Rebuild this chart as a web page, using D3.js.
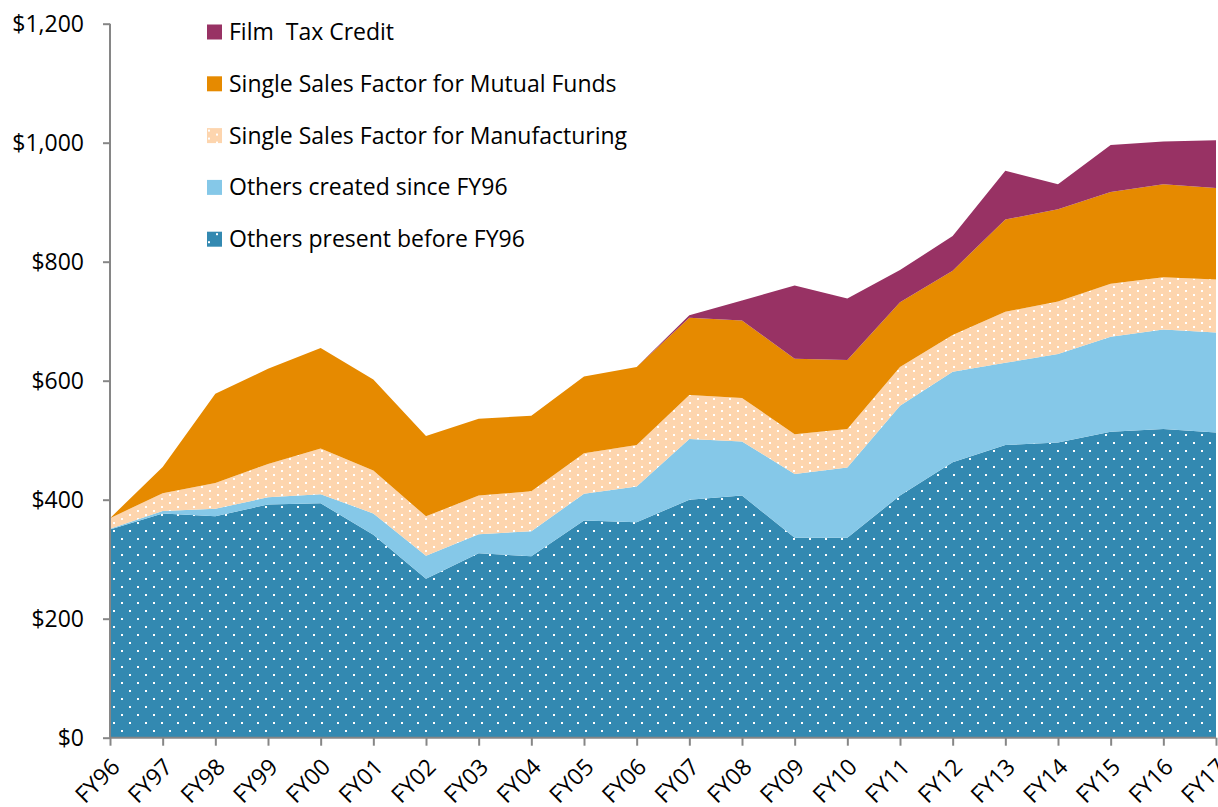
<!DOCTYPE html>
<html>
<head>
<meta charset="utf-8">
<script src="https://cdn.jsdelivr.net/npm/d3@7"></script>
<style>
  body { margin: 0; background: #fff; }
  svg text { font-family: "Open Sans", Lato, sans-serif; fill: #000; }
</style>
</head>
<body>
<div id="svg-area"></div>
<script>
var svgWidth = 1218;
var svgHeight = 807;

// fiscal years along the x axis
var years = ["FY96", "FY97", "FY98", "FY99", "FY00", "FY01", "FY02", "FY03", "FY04", "FY05", "FY06",
  "FY07", "FY08", "FY09", "FY10", "FY11", "FY12", "FY13", "FY14", "FY15", "FY16", "FY17"];

// series values ($ millions), bottom of the stack first
var othersBefore = [350, 377, 372, 392, 394, 341, 267, 310, 305, 365, 362, 400, 407, 336, 336, 407, 463, 492, 496, 514, 519, 513];
var othersSince = [1, 4, 13, 12, 15, 36, 39, 32, 42, 45, 60, 102, 91, 107, 118, 151, 152, 138, 149, 160, 167, 168];
var ssfManufacturing = [18, 30, 43, 56, 77, 72, 66, 65, 67, 68, 70, 74, 73, 67, 65, 65, 62, 86, 88, 89, 88, 89];
var ssfMutualFunds = [0, 44, 150, 160, 169, 153, 135, 129, 127, 129, 131, 130, 130, 127, 116, 109, 108, 155, 155, 154, 156, 154];
var filmCredit = [0, 0, 0, 0, 0, 0, 0, 0, 0, 0, 0, 4, 34, 123, 103, 54, 58, 82, 42, 79, 72, 80];

var yTicks = [0, 200, 400, 600, 800, 1000, 1200];

var seriesKeys = ["before", "since", "manu", "mutual", "film"];
var seriesNames = {
  before: "Others present before FY96",
  since: "Others created since FY96",
  manu: "Single Sales Factor for Manufacturing",
  mutual: "Single Sales Factor for Mutual Funds",
  film: "Film  Tax Credit"
};

var rows = years.map(function(y, i) {
  return {
    year: y,
    before: othersBefore[i],
    since: othersSince[i],
    manu: ssfManufacturing[i],
    mutual: ssfMutualFunds[i],
    film: filmCredit[i]
  };
});

var svg = d3.select("#svg-area")
  .append("svg")
  .attr("width", svgWidth)
  .attr("height", svgHeight);

// dotted fills
var defs = svg.append("defs");
function dotPattern(id, bg, w, h, dots) {
  var p = defs.append("pattern")
    .attr("id", id)
    .attr("patternUnits", "userSpaceOnUse")
    .attr("width", w)
    .attr("height", h);
  p.append("rect").attr("width", w).attr("height", h).attr("fill", bg);
  dots.forEach(function(d) {
    p.append("rect").attr("x", d[0]).attr("y", d[1]).attr("width", 2).attr("height", 2).attr("fill", "#fff");
  });
}
dotPattern("dotsDark", "#3389B1", 16, 16, [[1, 2], [9, 10]]);
dotPattern("dotsPeach", "#FDD5AE", 16, 8, [[1, 2], [9, 6]]);

var fills = {
  before: "url(#dotsDark)",
  since: "#85C8E8",
  manu: "url(#dotsPeach)",
  mutual: "#E68A00",
  film: "#983264"
};

var plotLeft = 110, plotRight = 1216, plotTop = 23.7, plotBottom = 737.7;

var xScale = d3.scalePoint()
  .domain(years)
  .range([plotLeft, plotRight]);

var yScale = d3.scaleLinear()
  .domain([0, 1200])
  .range([plotBottom, plotTop]);

var stack = d3.stack().keys(seriesKeys);
var layers = stack(rows);

var area = d3.area()
  .x(function(d) { return xScale(d.data.year); })
  .y0(function(d) { return yScale(d[0]); })
  .y1(function(d) { return yScale(d[1]); });

svg.append("g")
  .selectAll("path")
  .data(layers)
  .enter()
  .append("path")
  .attr("fill", function(d) { return fills[d.key]; })
  .attr("d", area);

// y axis
var yAxis = svg.append("g")
  .attr("transform", "translate(" + plotLeft + ",0)")
  .call(d3.axisLeft(yScale).tickValues(yTicks).tickSize(7).tickPadding(19)
    .tickFormat(function(d) { return "$" + d3.format(",")(d); }));
yAxis.selectAll("text").style("font-size", "23px").attr("dy", "0.35em");

// x axis
var xAxis = svg.append("g")
  .attr("transform", "translate(0," + plotBottom + ")")
  .call(d3.axisBottom(xScale).tickSize(8).tickFormat(""));

xAxis.selectAll(".tick")
  .append("text")
  .attr("transform", "translate(5,25) rotate(-45)")
  .attr("text-anchor", "end")
  .attr("dy", "0.35em")
  .style("font-size", "23px")
  .text(function(d) { return d; });

svg.selectAll(".domain, .tick line")
  .attr("stroke", "#868686")
  .attr("stroke-width", 2);
yAxis.select(".domain").attr("d", "M0," + plotTop + "V" + plotBottom);
xAxis.select(".domain").attr("d", "M" + plotLeft + ",0H" + plotRight);

// legend, top entry first
var legendKeys = seriesKeys.slice().reverse();
var legend = svg.append("g").attr("transform", "translate(207,32)");
var item = legend.selectAll("g")
  .data(legendKeys)
  .enter()
  .append("g")
  .attr("transform", function(d, i) { return "translate(0," + (i * 51.8) + ")"; });
item.append("rect")
  .attr("x", 0)
  .attr("y", -7.5)
  .attr("width", 15)
  .attr("height", 15)
  .attr("fill", function(d) { return fills[d]; });
item.append("text")
  .attr("x", 22)
  .attr("dy", "0.35em")
  .style("font-size", "23px")
  .style("white-space", "pre")
  .text(function(d) { return seriesNames[d]; });
</script>
</body>
</html>
